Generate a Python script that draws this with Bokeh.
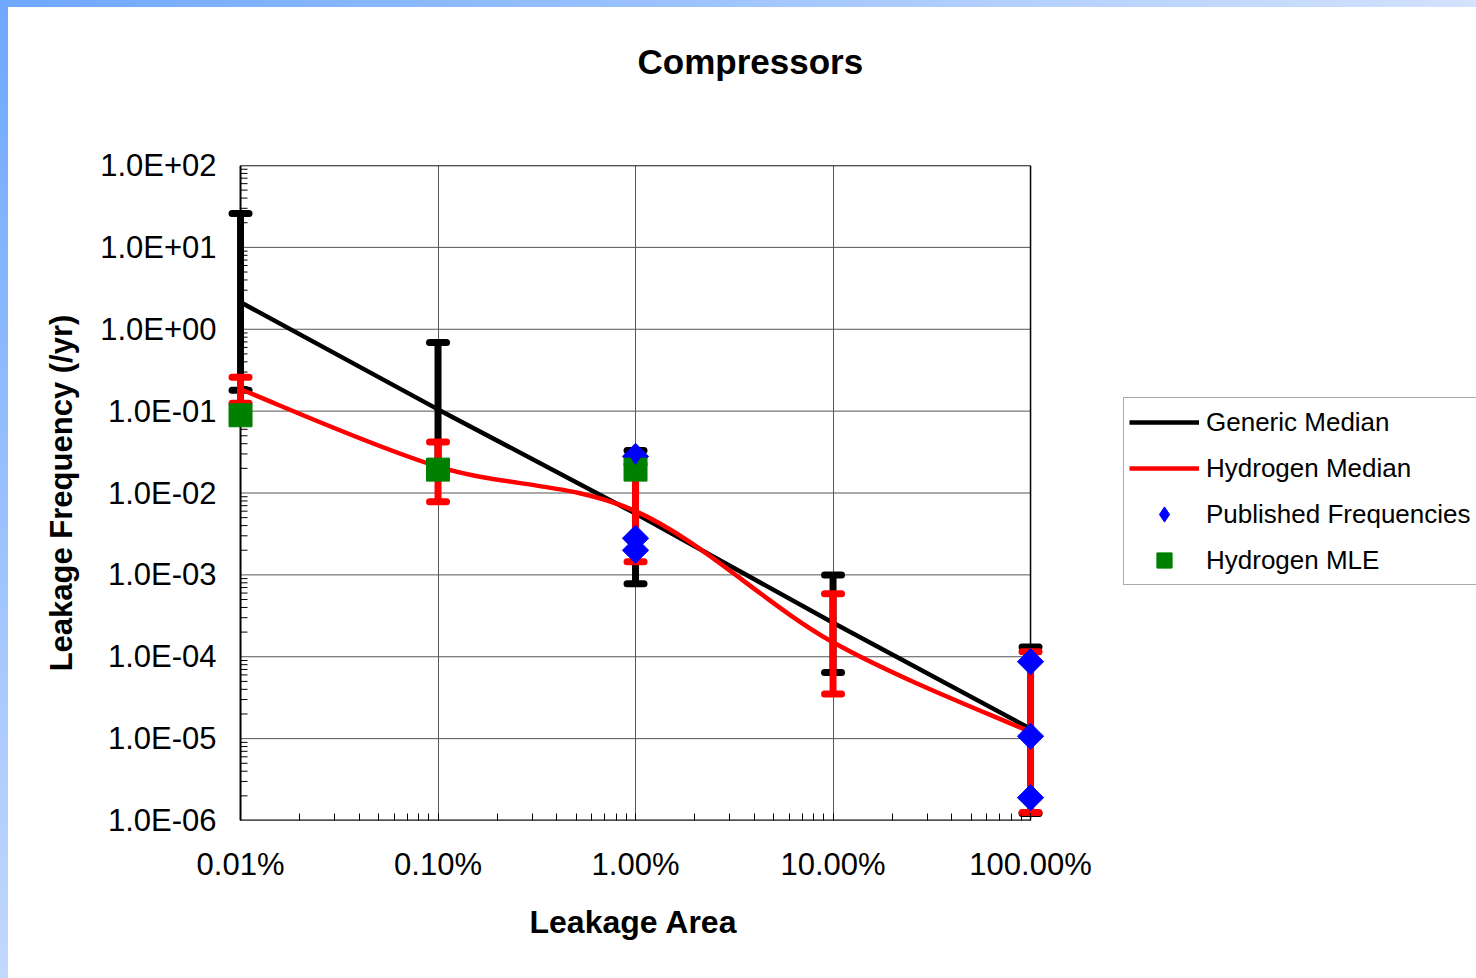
import math
from bokeh.plotting import figure
from bokeh.models import (FixedTicker, CustomJSTickFormatter, Legend, LegendItem, Title)
from bokeh.embed import file_html
from bokeh.resources import INLINE

# ---------------- data ----------------
chart_title = "Compressors"
x_axis_title = "Leakage Area"
y_axis_title = "Leakage Frequency (/yr)"

leak_area_pct = [0.01, 0.1, 1.0, 10.0, 100.0]
x_tick_values = [0.01, 0.1, 1.0, 10.0, 100.0]
y_tick_values = [1e-6, 1e-5, 1e-4, 1e-3, 1e-2, 1e-1, 1e0, 1e1, 1e2]

generic_median = [2.14, 0.105, 5.6e-3, 2.6e-4, 1.32e-5]
generic_upper = [26.0, 0.69, 0.033, 1.0e-3, 1.32e-4]
generic_lower = [0.18, 0.0157, 7.8e-4, 6.4e-5, 1.22e-6]

hydrogen_median = [0.185, 0.021, 6.0e-3, 1.5e-4, 1.2e-5]
hydrogen_upper = [0.26, 0.042, 0.0225, 5.9e-4, 1.15e-4]
hydrogen_lower = [0.125, 7.8e-3, 1.45e-3, 3.5e-5, 1.25e-6]

published_area_pct = [1.0, 1.0, 1.0, 100.0, 100.0, 100.0]
published_freq = [0.028, 2.8e-3, 2.0e-3, 8.7e-5, 1.07e-5, 1.9e-6]

mle_area_pct = [0.01, 0.1, 1.0]
mle_freq = [0.089, 0.0193, 0.0193]

legend_labels = ["Generic Median", "Hydrogen Median", "Published Frequencies", "Hydrogen MLE"]

FONT = "Liberation Sans"


def smooth_segments(xs, ys):
    """Cubic Bezier control points (Catmull-Rom style, like a spreadsheet's
    'smoothed line') computed in log-log space from the given points."""
    lx = [math.log10(v) for v in xs]
    ly = [math.log10(v) for v in ys]
    n = len(lx)
    out = dict(x0=[], y0=[], x1=[], y1=[], cx0=[], cy0=[], cx1=[], cy1=[])
    for i in range(n - 1):
        a = max(i - 1, 0)
        d = min(i + 2, n - 1)
        c0x = lx[i] + (lx[i + 1] - lx[a]) / 6.0
        c0y = ly[i] + (ly[i + 1] - ly[a]) / 6.0
        c1x = lx[i + 1] - (lx[d] - lx[i]) / 6.0
        c1y = ly[i + 1] - (ly[d] - ly[i]) / 6.0
        out["x0"].append(xs[i]); out["y0"].append(ys[i])
        out["x1"].append(xs[i + 1]); out["y1"].append(ys[i + 1])
        out["cx0"].append(10 ** c0x); out["cy0"].append(10 ** c0y)
        out["cx1"].append(10 ** c1x); out["cy1"].append(10 ** c1y)
    return out


# The plotting frame is widened (in decades) beyond the axis ends: a little on
# the left so the marks on the first category are not clipped, and far to the
# right so that the legend sits inside it. The visible axis box is drawn at
# the true axis ends below.
PAD_L = 0.071
PAD_R = 2.258
x_lo, x_hi = x_tick_values[0], x_tick_values[-1]
y_lo, y_hi = y_tick_values[0], y_tick_values[-1]

W, H = 1476, 978
p = figure(width=W, height=H, x_axis_type="log", y_axis_type="log",
           x_range=(x_lo / 10 ** PAD_L, x_hi * 10 ** PAD_R),
           y_range=(y_lo, y_hi),
           output_backend="svg", toolbar_location=None,
           min_border_left=226, min_border_right=0,
           min_border_top=165, min_border_bottom=158)

p.background_fill_color = "white"
p.border_fill_color = "white"
p.border_fill_alpha = 0.0
p.outline_line_color = None

p.title = Title(text=chart_title, align="left", offset=411,
                text_font=FONT, text_font_size="35px", text_font_style="bold",
                text_color="black")
# empty spacer between the title and the plot box
p.add_layout(Title(text=" ", text_font_size="70px", standoff=0), "above")

# ticks
x_minor = [m * t for t in x_tick_values[:-1] for m in range(2, 10)]
y_minor = [m * t for t in y_tick_values[:-1] for m in range(2, 10)]
xt = FixedTicker(ticks=x_tick_values, minor_ticks=x_minor)
yt = FixedTicker(ticks=y_tick_values, minor_ticks=[])
p.xaxis.ticker = xt
p.yaxis.ticker = yt
p.xgrid.ticker = xt

p.xaxis.formatter = CustomJSTickFormatter(code="return tick.toFixed(2) + '%';")
p.yaxis.formatter = CustomJSTickFormatter(code="""
const e = Math.round(Math.log10(tick));
const m = tick / Math.pow(10, e);
const a = Math.abs(e);
return m.toFixed(1) + 'E' + (e < 0 ? '-' : '+') + (a < 10 ? '0' : '') + a;
""")

for ax in (p.xaxis[0], p.yaxis[0]):
    ax.axis_line_color = None
    ax.major_label_text_font = FONT
    ax.major_label_text_font_size = "31px"
    ax.major_label_text_color = "black"
    ax.axis_label_text_font = FONT
    ax.axis_label_text_font_style = "bold"
    ax.axis_label_text_color = "black"

p.xaxis.major_tick_line_color = "black"
p.xaxis.minor_tick_line_color = "black"
p.xaxis.major_tick_in = 7
p.xaxis.major_tick_out = 0
p.xaxis.minor_tick_in = 7
p.xaxis.minor_tick_out = 0
p.yaxis.major_tick_line_color = None
p.yaxis.minor_tick_line_color = None
p.yaxis.major_tick_in = 0
p.yaxis.major_tick_out = 0
p.yaxis.minor_tick_in = 0
p.yaxis.minor_tick_out = 0

p.yaxis.axis_label = y_axis_title
p.yaxis.axis_label_text_font_size = "31px"
p.xaxis.major_label_standoff = 26
p.yaxis.major_label_standoff = 10
p.yaxis.axis_label_standoff = 18

# x-axis title, centred under the visible axis box (not the widened frame)
p.add_layout(Title(text=x_axis_title, align="left", offset=303,
                   vertical_align="top", standoff=38,
                   text_font=FONT, text_font_size="32px", text_font_style="bold",
                   text_color="black"), "below")

p.xgrid.grid_line_color = "#555555"
p.xgrid.grid_line_width = 1
p.ygrid.grid_line_color = None

# ---------------- horizontal grid lines, y minor ticks and plot border --------
ny = len(y_tick_values)
p.segment(x0=[x_lo] * ny, y0=y_tick_values, x1=[x_hi] * ny, y1=y_tick_values,
          line_color="#555555", line_width=1)
p.ray(x=[x_lo] * len(y_minor), y=y_minor, length=7, length_units="screen",
      angle=0, line_color="black", line_width=1)
p.segment(x0=[x_lo, x_lo], y0=[y_lo, y_lo], x1=[x_lo, x_hi], y1=[y_hi, y_lo],
          line_color="black", line_width=2)
p.segment(x0=[x_lo, x_hi], y0=[y_hi, y_lo], x1=[x_hi, x_hi], y1=[y_hi, y_hi],
          line_color="black", line_width=1.5)

# ---------------- error bars -------------
EB_W = 7
CAP = 17
p.segment(x0=leak_area_pct, y0=generic_lower, x1=leak_area_pct, y1=generic_upper,
          line_color="black", line_width=EB_W)
p.scatter(x=leak_area_pct + leak_area_pct, y=generic_upper + generic_lower,
          marker="dash", size=CAP, line_color="black", line_width=EB_W, line_cap="round")

r_gen = p.line(x=leak_area_pct, y=generic_median, line_color="black", line_width=4.5)

p.segment(x0=leak_area_pct, y0=hydrogen_lower, x1=leak_area_pct, y1=hydrogen_upper,
          line_color="red", line_width=EB_W)
p.scatter(x=leak_area_pct + leak_area_pct, y=hydrogen_upper + hydrogen_lower,
          marker="dash", size=CAP, line_color="red", line_width=EB_W, line_cap="round")

seg = smooth_segments(leak_area_pct, hydrogen_median)
r_h2 = p.bezier(x0=seg["x0"], y0=seg["y0"], x1=seg["x1"], y1=seg["y1"],
                cx0=seg["cx0"], cy0=seg["cy0"], cx1=seg["cx1"], cy1=seg["cy1"],
                line_color="red", line_width=4.5)

r_pub = p.scatter(x=published_area_pct, y=published_freq, marker="square",
                  angle=math.pi / 4, size=18.5, fill_color="blue", line_color="blue")
r_mle = p.scatter(x=mle_area_pct, y=mle_freq, marker="square", size=23,
                  fill_color="green", line_color="green")

# key glyph for the legend (diamond shape); it sits hidden inside the
# published-frequency markers of the same colour
r_pub_key = p.scatter(x=published_area_pct, y=published_freq, marker="diamond",
                      size=16, fill_color="blue", line_color="blue")

legend = Legend(items=[LegendItem(label=legend_labels[0], renderers=[r_gen]),
                       LegendItem(label=legend_labels[1], renderers=[r_h2]),
                       LegendItem(label=legend_labels[2], renderers=[r_pub_key]),
                       LegendItem(label=legend_labels[3], renderers=[r_mle])],
                location=(897, 235),
                label_text_font=FONT, label_text_font_size="26px",
                label_text_color="black",
                glyph_width=70, glyph_height=38, label_height=38,
                spacing=8, padding=5, margin=0, label_standoff=7,
                border_line_color="#555555", border_line_width=1.5,
                background_fill_color="white", background_fill_alpha=1.0)
p.add_layout(legend)

html = file_html(p, INLINE, title=chart_title)
bars_css = ("<style>html { background: "
            "linear-gradient(to right, #6ea8ff, #d3e2fd) 0 0 / 100% 7px no-repeat, "
            "linear-gradient(to bottom, #6ea8ff, #c2d8fd) 0 0 / 8px 100% no-repeat, "
            "#ffffff !important; } body { background: transparent !important; }</style>")
html = html.replace("</head>", bars_css + "</head>", 1)
open("out.html", "w").write(html)
